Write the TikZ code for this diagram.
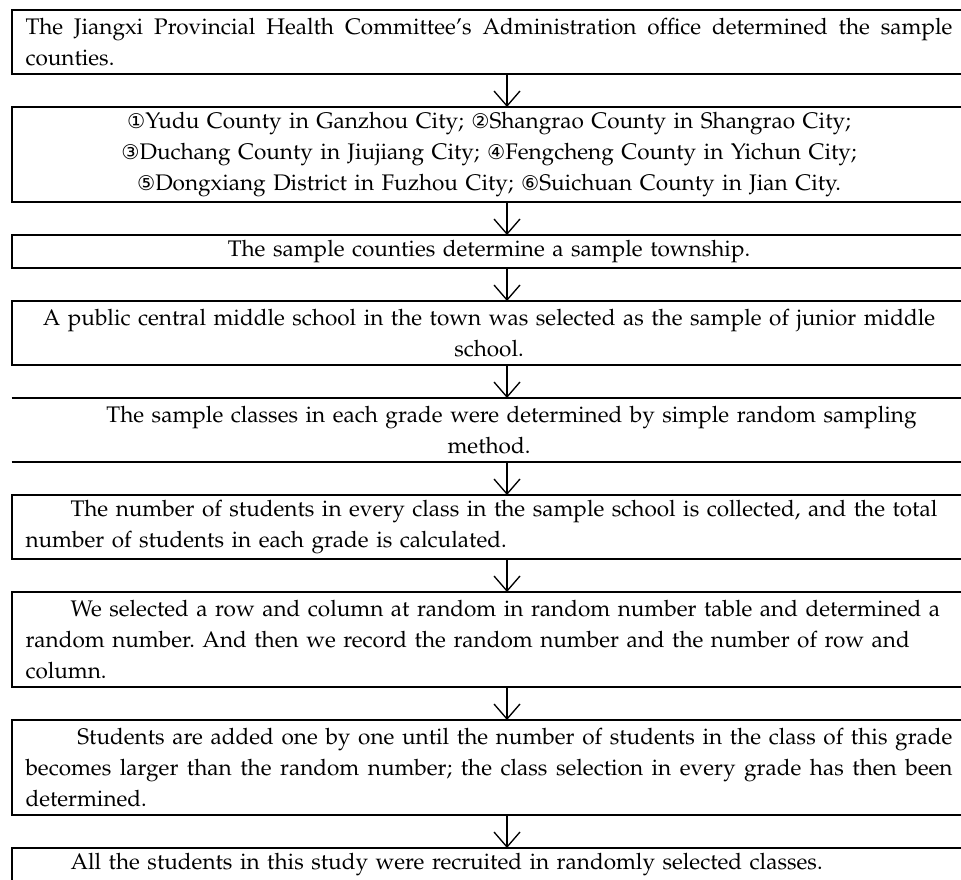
\documentclass[tikz,border=0pt]{standalone}
\usepackage{fontspec}
\newfontfamily\circfont[Scale=0.9]{DejaVu Sans}
\usepackage[T1]{fontenc}
\renewcommand{\rmdefault}{ppl}
\usetikzlibrary{arrows.meta,positioning}
\hyphenpenalty=10000
\frenchspacing

\begin{document}
\begin{tikzpicture}[
  font=\fontsize{16.9pt}{23.25pt}\selectfont,
  node distance=24.75pt,
  stage/.style={rectangle, draw, line width=1.5pt, outer sep=0pt,
                inner xsep=10.5pt, inner ysep=0pt, text width=695.25pt},
  oneline/.style  ={minimum height=24.75pt},
  twoline/.style  ={minimum height=48pt},
  threeline/.style={minimum height=71.25pt},
  flow/.style={-{Straight Barb[length=11.25pt,width=19.5pt]}, line width=1pt},
  rule/.style={line width=1.5pt},
]
\useasboundingbox (0,0) rectangle (720.75pt,-659.25pt);

% === Boxes, top to bottom ===
\node[stage, twoline, align=justify, anchor=north west] (admin) at (8.625pt,-7.5pt)
  {The Jiangxi Provincial Health Committee's Administration office determined the sample\linebreak counties.};

\node[stage, threeline, align=center, below=of admin] (counties)
  {{\circfont ①}Yudu County in Ganzhou City; {\circfont ②}Shangrao County in Shangrao City;\\
   {\circfont ③}Duchang County in Jiujiang City; {\circfont ④}Fengcheng County in Yichun City;\\
   {\circfont ⑤}Dongxiang District in Fuzhou City; {\circfont ⑥}Suichuan County in Jian City.};

\node[stage, oneline, align=center, below=of counties] (township)
  {The sample counties determine a sample township.};

\node[stage, twoline, align=center, below=of township] (school)
  {A public central middle school in the town was selected as the sample of junior middle\\school.};

\node[stage, twoline, align=center, draw=none, below=of school] (classes)
  {\hspace*{2em}The sample classes in each grade were determined by simple random sampling\\method.};

\node[stage, twoline, align=left, below=of classes] (tally)
  {\hspace*{2em}The number of students in every class in the sample school is collected, and the total\\
   number of students in each grade is calculated.};

\node[stage, threeline, align=left, below=of tally] (randnum)
  {\hspace*{2em}We selected a row and column at random in random number table and determined a\\
   random number. And then we record the random number and the number of row and\\
   column.};

\node[stage, threeline, align=justify, below=of randnum] (selection)
  {\hspace*{2.3em}Students are added one by one until the number of students in the class of this grade\linebreak
   becomes larger than the random number; the class selection in every grade has then been\linebreak
   determined.};

\node[stage, oneline, align=left, below=of selection] (recruit)
  {\hspace*{2em}All the students in this study were recruited in randomly selected classes.};

% open box: top and bottom rules only
\draw[rule] (classes.north west) -- (classes.north east);
\draw[rule] (classes.south west) -- (classes.south east);

% === Arrows ===
\draw[flow] ([xshift=13.5pt]admin.south) -- ([xshift=13.5pt]counties.north);
\draw[flow] ([xshift=13.5pt]counties.south) -- ([xshift=13.5pt]township.north);
\draw[flow] ([xshift=13.5pt]township.south) -- ([xshift=13.5pt]school.north);
\draw[flow] ([xshift=13.5pt]school.south) -- ([xshift=13.5pt]classes.north);
\draw[flow] ([xshift=13.5pt]classes.south) -- ([xshift=13.5pt]tally.north);
\draw[flow] ([xshift=13.5pt]tally.south) -- ([xshift=13.5pt]randnum.north);
\draw[flow] ([xshift=13.5pt]randnum.south) -- ([xshift=13.5pt]selection.north);
\draw[flow] ([xshift=13.5pt]selection.south) -- ([xshift=13.5pt]recruit.north);

\end{tikzpicture}
\end{document}
